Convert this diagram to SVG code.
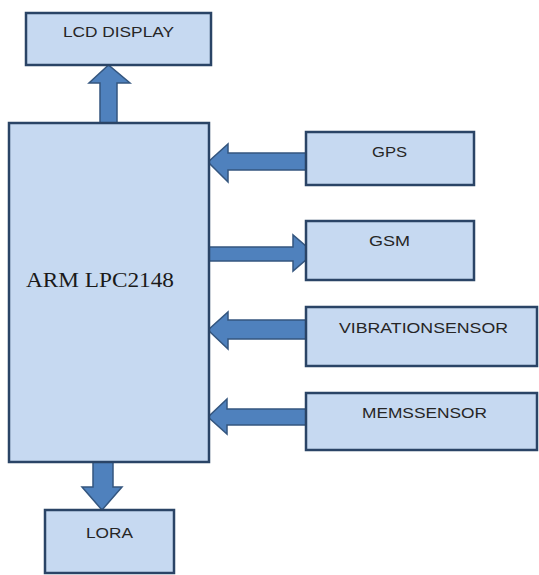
<svg xmlns="http://www.w3.org/2000/svg" width="539" height="575" viewBox="0 0 539 575">
<style>
.box{fill:#c6d9f1;stroke:#2a4466;stroke-width:2.5}
.arr{fill:#4f81bd;stroke:#34567f;stroke-width:1.5;stroke-linejoin:miter}
.lbl{font-family:"Liberation Sans",Arial,sans-serif;font-size:15.5px;fill:#262626;text-anchor:middle}
.main{font-family:"Liberation Serif","Times New Roman",serif;font-size:21px;fill:#1a1a1a}
</style>
<rect width="539" height="575" fill="#ffffff"/>
<g id="connectors">
<path class="arr" d="M100,123 V83 H89 L108.5,65 L130,83 H117 V123 Z"/>
<path class="arr" d="M306,153 H228 V144 L208,162 L228,182 V170 H306 Z"/>
<path class="arr" d="M209,247 H293 V235 L314,253 L293,271 V261 H209 Z"/>
<path class="arr" d="M306,320 H228 V312 L208,330 L228,349 V339 H306 Z"/>
<path class="arr" d="M306,409 H227 V399 L208,417 L227,434 V425 H306 Z"/>
<path class="arr" d="M93,462 V487 H82 L102,510 L122,487 H113 V462 Z"/>
</g>
<g id="lcd"><rect class="box" x="26" y="13" width="185" height="52"/><text class="lbl" x="118.5" y="37" textLength="111" lengthAdjust="spacingAndGlyphs">LCD DISPLAY</text></g>
<g id="arm"><rect class="box" x="9" y="123" width="200" height="339"/><text class="main" x="26" y="287" textLength="148" lengthAdjust="spacingAndGlyphs">ARM LPC2148</text></g>
<g id="gps"><rect class="box" x="306" y="132" width="168" height="53"/><text class="lbl" x="389.5" y="157" textLength="35" lengthAdjust="spacingAndGlyphs">GPS</text></g>
<g id="gsm"><rect class="box" x="306" y="221" width="168" height="59"/><text class="lbl" x="389.5" y="246" textLength="41" lengthAdjust="spacingAndGlyphs">GSM</text></g>
<g id="vibration"><rect class="box" x="306" y="307" width="231" height="59"/><text class="lbl" x="423.5" y="333" textLength="169" lengthAdjust="spacingAndGlyphs">VIBRATIONSENSOR</text></g>
<g id="mems"><rect class="box" x="306" y="393" width="231" height="57"/><text class="lbl" x="424.5" y="418" textLength="125" lengthAdjust="spacingAndGlyphs">MEMSSENSOR</text></g>
<g id="lora"><rect class="box" x="45" y="510" width="129" height="63"/><text class="lbl" x="109.5" y="538" textLength="47" lengthAdjust="spacingAndGlyphs">LORA</text></g>
</svg>
